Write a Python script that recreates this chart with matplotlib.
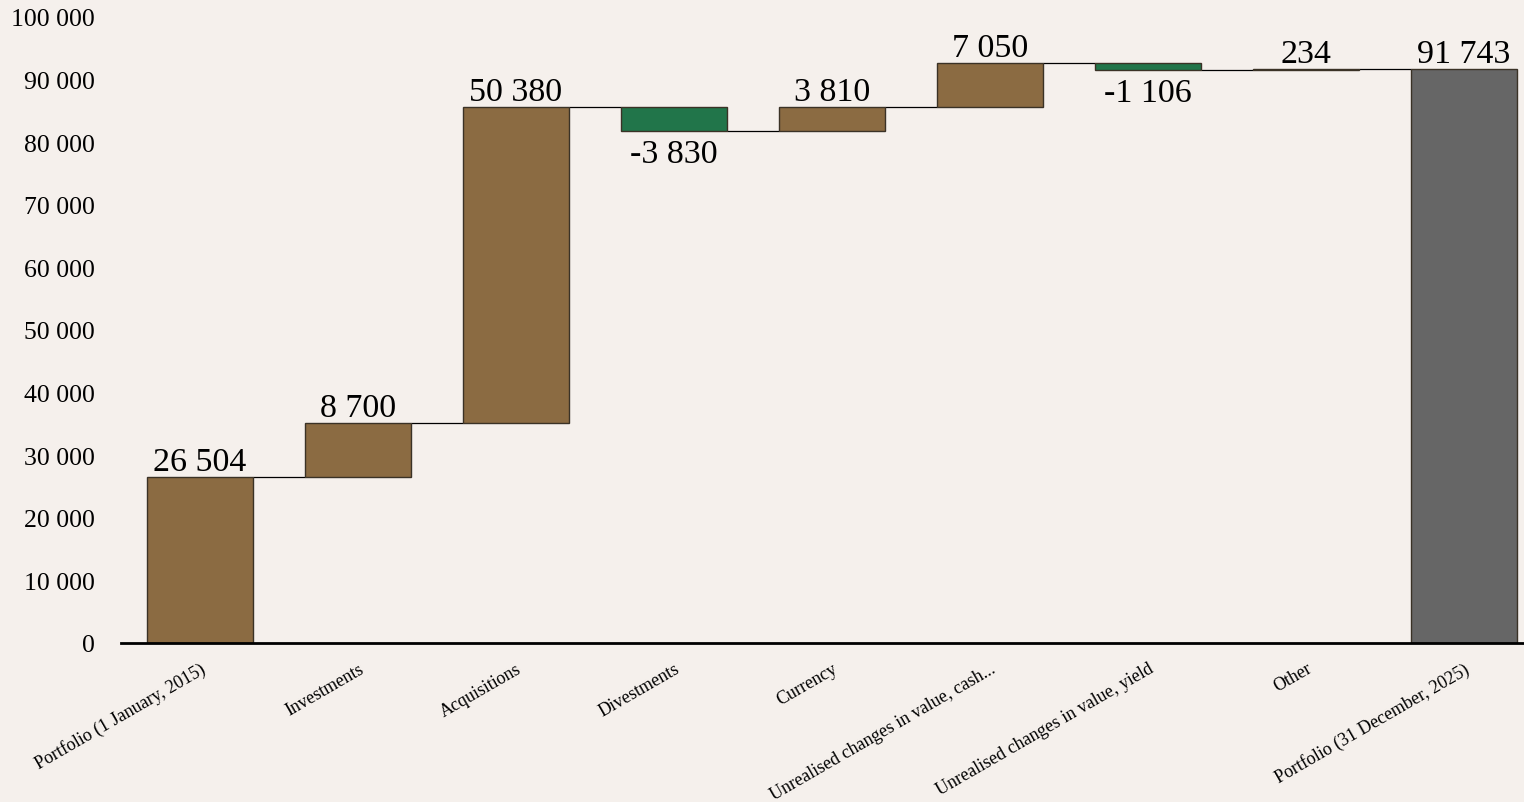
import matplotlib
matplotlib.use("Agg")
import matplotlib.pyplot as plt
from matplotlib.ticker import FuncFormatter

categories = [
    "Portfolio (1 January, 2015)",
    "Investments",
    "Acquisitions",
    "Divestments",
    "Currency",
    "Unrealised changes in value, cash...",
    "Unrealised changes in value, yield",
    "Other",
    "Portfolio (31 December, 2025)",
]
start_value = 26504
changes = [8700, 50380, -3830, 3810, 7050, -1106, 234]
end_value = 91743

BG = "#F5F0EC"
UP = "#8B6B42"
DOWN = "#21754A"
TOTAL = "#666666"
EDGE = "#3a3226"

plt.rcParams["font.family"] = ["Liberation Serif", "DejaVu Serif"]


def fmt(v):
    s = f"{abs(int(round(v))):,}".replace(",", " ")
    return ("-" if v < 0 else "") + s


fig = plt.figure(figsize=(15.24, 8.03), dpi=100, facecolor=BG)
ax = fig.add_axes([121 / 1524, 1 - 644 / 803, (1524 - 121) / 1524, (644 - 18) / 803])
ax.set_facecolor(BG)

# bar geometry for each step of the waterfall
bottoms, heights, colors, values = [], [], [], []
bottoms.append(0); heights.append(start_value); colors.append(UP); values.append(start_value)
level = start_value
for c in changes:
    if c >= 0:
        bottoms.append(level); heights.append(c); colors.append(UP)
    else:
        bottoms.append(level + c); heights.append(-c); colors.append(DOWN)
    values.append(c)
    level += c
bottoms.append(0); heights.append(end_value); colors.append(TOTAL); values.append(end_value)

x = list(range(len(categories)))
width = 0.667
ax.bar(x, heights, bottom=bottoms, width=width, color=colors,
       edgecolor=EDGE, linewidth=1.0, zorder=2)

# connectors between consecutive bars
level = start_value
levels = [start_value]
for c in changes:
    level += c
    levels.append(level)
for i, lv in enumerate(levels):
    ax.plot([i + width / 2, i + 1 - width / 2], [lv, lv], color="black",
            linewidth=0.9, zorder=1, solid_capstyle="butt")

# value labels
for i, v in enumerate(values):
    top = bottoms[i] + heights[i]
    if v >= 0:
        ax.annotate(fmt(v), (i, top), xytext=(0, 0), textcoords="offset points",
                    ha="center", va="bottom", fontsize=24.5, color="black")
    else:
        ax.annotate(fmt(v), (i, bottoms[i]), xytext=(0, -5), textcoords="offset points",
                    ha="center", va="top", fontsize=24.5, color="black")

ax.set_xlim(-0.5, 8 + (1524 - 1464) / 157.9)
ax.set_ylim(0, 100000)
ax.set_yticks(range(0, 100001, 10000))
ax.yaxis.set_major_formatter(FuncFormatter(lambda v, p: fmt(v)))
ax.set_xticks(x)
ax.set_xticklabels(categories, rotation=30, ha="right", rotation_mode="anchor", fontsize=13)
ax.tick_params(axis="y", length=0, pad=19, labelsize=18.5)
ax.tick_params(axis="x", length=0, pad=12)

for s in ["top", "right", "left"]:
    ax.spines[s].set_visible(False)
ax.spines["bottom"].set_linewidth(2)
ax.spines["bottom"].set_color("black")
ax.spines["bottom"].set_zorder(3)

fig.savefig("out.png", dpi=100, facecolor=BG)
